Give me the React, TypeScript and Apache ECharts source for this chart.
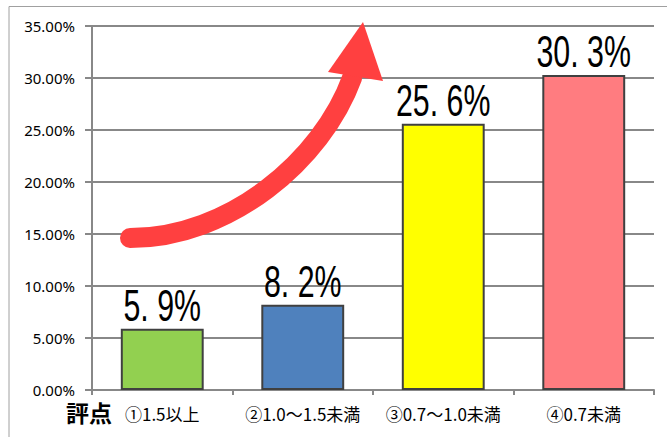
import React, { useEffect, useRef } from "react";
import * as echarts from "echarts";

const categories = ["①1.5以上", "②1.0～1.5未満", "③0.7～1.0未満", "④0.7未満"];
const values = [5.9, 8.2, 25.6, 30.3];
const barColors = ["#92d050", "#4f81bd", "#ffff00", "#ff7c80"];
const yTicks = { min: 0, max: 35, interval: 5 };
const axisTitle = "評点";

const fmtLabel = (v: number) => v.toFixed(1).replace(".", ". ") + "%";

export default function App() {
  const ref = useRef<HTMLDivElement>(null);
  useEffect(() => {
    if (!ref.current) return;
    const chart = echarts.init(ref.current, undefined, { renderer: "svg" });
    chart.setOption({
      animation: false,
      backgroundColor: "#ffffff",
      grid: { left: 92, right: 13, top: 26, bottom: 47 },
      xAxis: {
        type: "category",
        data: categories,
        axisLine: { lineStyle: { color: "#888888", width: 2 } },
        axisTick: { show: true, length: 5, lineStyle: { color: "#888888", width: 2 } },
        axisLabel: {
          interval: 0,
          color: "#000000",
          fontSize: 17,
          fontFamily: "'Noto Sans CJK JP', sans-serif",
          margin: 15,
        },
      },
      yAxis: {
        type: "value",
        min: yTicks.min,
        max: yTicks.max,
        interval: yTicks.interval,
        axisLine: { show: true, lineStyle: { color: "#888888", width: 2 } },
        axisTick: { show: true, length: 7, lineStyle: { color: "#888888", width: 2 } },
        splitLine: { lineStyle: { color: "#888888", width: 2 } },
        axisLabel: {
          color: "#000000",
          fontSize: 15,
          fontFamily: "'Noto Sans', 'Open Sans', sans-serif",
          margin: 17,
          formatter: (v: number) => v.toFixed(2) + "%",
        },
      },
      series: [
        {
          type: "bar",
          barWidth: "59%",
          data: values.map((v, i) => ({
            value: v,
            itemStyle: { color: barColors[i], borderColor: "#404040", borderWidth: 2 },
          })),
        },
        {
          type: "custom",
          data: values.map((v, i) => [i, v]),
          z: 5,
          renderItem: (params: any, api: any) => {
            const idx = api.value(0);
            const v = api.value(1);
            const pt = api.coord([idx, v]);
            return {
              type: "text",
              x: pt[0],
              y: pt[1] - 1,
              scaleX: 0.69,
              style: {
                text: fmtLabel(v),
                x: 0,
                y: 0,
                align: "center",
                verticalAlign: "bottom",
                fontSize: 44,
                fontFamily: "'Liberation Sans', Arial, sans-serif",
                fill: "#000000",
              },
            };
          },
        },
      ],
      graphic: [
        {
          type: "polyline",
          shape: { points: [[9, 437], [9, 6.5], [667, 6.5]] },
          style: { stroke: "#a0a0a0", lineWidth: 1, fill: "none" },
          silent: true,
        },
        {
          type: "text",
          x: 66,
          y: 400,
          style: {
            text: axisTitle,
            fontSize: 23,
            fontWeight: "bold",
            fontFamily: "'Noto Sans CJK JP', sans-serif",
            fill: "#000000",
          },
        },
        {
          type: "bezierCurve",
          shape: {
            x1: 130, y1: 238,
            cpx1: 230, cpy1: 238,
            cpx2: 322, cpy2: 160,
            x2: 352, y2: 78,
          },
          style: { stroke: "#ff4040", lineWidth: 20, lineCap: "round", fill: "none" },
          z: 10,
        },
        {
          type: "polygon",
          shape: { points: [[328, 72], [363, 22], [383, 81]] },
          style: { fill: "#ff4040" },
          z: 10,
        },
      ],
    });
    return () => chart.dispose();
  }, []);
  return <div ref={ref} style={{ width: 667, height: 437, position: "absolute", left: 0, top: 0 }} />;
}
